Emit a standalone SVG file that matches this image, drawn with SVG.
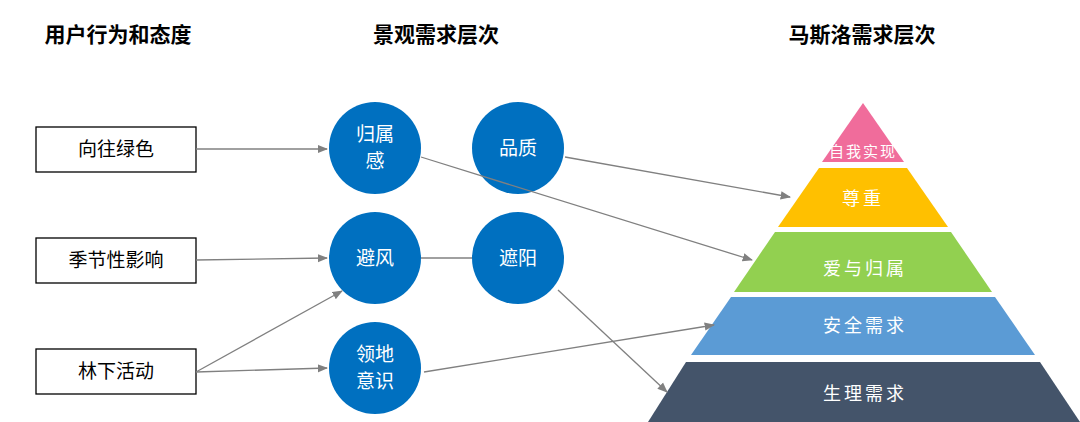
<svg xmlns="http://www.w3.org/2000/svg" width="1080" height="422" viewBox="0 0 1080 422">
<style>
.h{font-family:"Liberation Sans","Noto Sans CJK SC",sans-serif;font-size:21px;font-weight:bold;fill:#000;text-anchor:middle}
.b{font-family:"Liberation Sans","Noto Sans CJK SC",sans-serif;font-size:19px;fill:#000;text-anchor:middle}
.c{font-family:"Liberation Sans","Noto Sans CJK SC",sans-serif;font-size:19px;fill:#fff;text-anchor:middle}
.p{font-family:"Noto Sans CJK SC",sans-serif;font-size:18px;fill:#fff;text-anchor:middle;letter-spacing:3px}
rect{fill:#fff;stroke:#000;stroke-width:1.3}
circle{fill:#0070C0}
.l{stroke:#808080;stroke-width:1.3;fill:none}
</style>
<defs><marker id="a" viewBox="0 0 10 10" refX="9" refY="5" markerWidth="8" markerHeight="8" orient="auto"><path d="M0,1L10,5L0,9z" fill="#808080"/></marker></defs>
<rect width="1080" height="422" style="fill:#fff;stroke:none"/>
<text class="h" x="118" y="42">用户行为和态度</text>
<text class="h" x="436" y="42">景观需求层次</text>
<text class="h" x="862" y="42">马斯洛需求层次</text>
<g id="box1"><rect x="36" y="127" width="160" height="45"/><text class="b" x="116" y="156">向往绿色</text></g>
<g id="box2"><rect x="36" y="238" width="160" height="45"/><text class="b" x="116" y="267">季节性影响</text></g>
<g id="box3"><rect x="36" y="349" width="160" height="45"/><text class="b" x="116" y="378">林下活动</text></g>
<g id="n1"><circle cx="375" cy="148" r="46"/><text class="c" x="375" y="141">归属</text><text class="c" x="375" y="168">感</text></g>
<g id="n2"><circle cx="518" cy="148" r="46"/><text class="c" x="518" y="155">品质</text></g>
<g id="n3"><circle cx="375" cy="258" r="46"/><text class="c" x="375" y="265">避风</text></g>
<g id="n4"><circle cx="518" cy="258" r="46"/><text class="c" x="518" y="265">遮阳</text></g>
<g id="n5"><circle cx="375" cy="368" r="46"/><text class="c" x="375" y="361">领地</text><text class="c" x="375" y="388">意识</text></g>
<g id="pyramid">
<polygon points="863,103 904,162 822,162" fill="#F06C9B"/>
<text x="863" y="157" style="font-family:'Noto Sans CJK SC',sans-serif;font-size:15px;fill:#fff;text-anchor:middle;letter-spacing:2px">自我实现</text>
<polygon points="819,168 907,168 948,227 778,227" fill="#FFC000"/>
<text class="p" x="863" y="205">尊重</text>
<polygon points="775,232 951,232 992,292 734,292" fill="#92D050"/>
<text class="p" x="865" y="275">爱与归属</text>
<polygon points="731,297 995,297 1035,355 691,355" fill="#5B9BD5"/>
<text class="p" x="865" y="332">安全需求</text>
<polygon points="686,362 1040,362 1080,422 648,422" fill="#44546A"/>
<text class="p" x="865" y="400">生理需求</text>
</g>
<g id="connectors">
<line class="l" x1="196" y1="149" x2="327" y2="149" marker-end="url(#a)"/>
<line class="l" x1="196" y1="260" x2="327" y2="258" marker-end="url(#a)"/>
<line class="l" x1="196" y1="372" x2="342" y2="291" marker-end="url(#a)"/>
<line class="l" x1="196" y1="372" x2="327" y2="368" marker-end="url(#a)"/>
<line class="l" x1="421" y1="157" x2="752" y2="260" marker-end="url(#a)"/>
<line class="l" x1="565" y1="157" x2="790" y2="197" marker-end="url(#a)"/>
<line class="l" x1="421" y1="258" x2="472" y2="258"/>
<line class="l" x1="558" y1="290" x2="667" y2="392" marker-end="url(#a)"/>
<line class="l" x1="424" y1="372" x2="714" y2="325" marker-end="url(#a)"/>
</g>
</svg>
